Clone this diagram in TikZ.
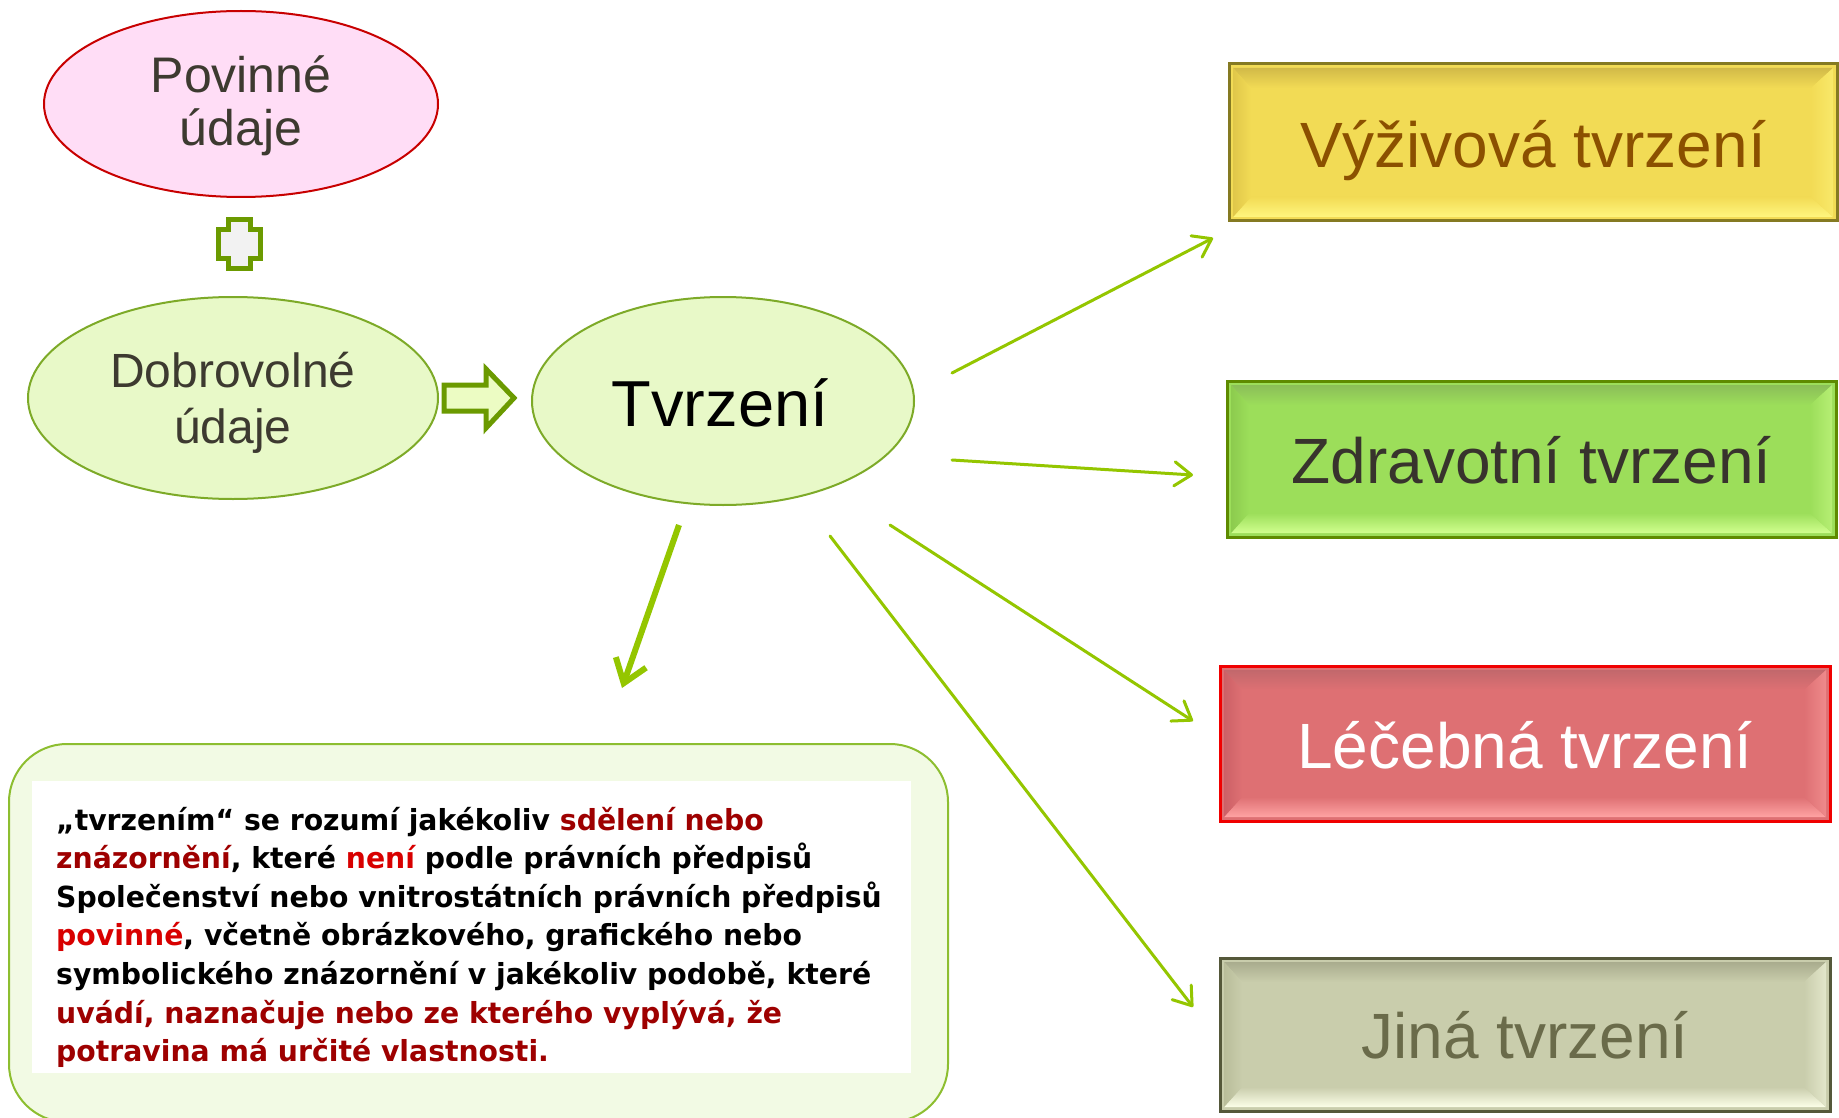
\documentclass[tikz,border=0pt]{standalone}
\usepackage{fontspec}
\setmainfont{Liberation Sans}
\newfontfamily\deffont{DejaVu Sans}[FakeStretch=0.975]
\usetikzlibrary{shapes.geometric,arrows.meta}
\definecolor{povfill}{HTML}{FFDDF6}
\definecolor{povedge}{HTML}{C80000}
\definecolor{gfill}{HTML}{E8F9C8}
\definecolor{gedge}{HTML}{7DAA28}
\definecolor{lbltext}{HTML}{3D3A30}
\definecolor{arrgreen}{HTML}{94C600}
\definecolor{plusedge}{HTML}{6B9A00}
\definecolor{plusfill}{HTML}{F2F2F2}
\definecolor{blockfill}{HTML}{ECFCC3}
\definecolor{yfill}{HTML}{F2DB55}\definecolor{ytop}{HTML}{D2BA48}\definecolor{ybot}{HTML}{FFF67E}
\definecolor{yside}{HTML}{E0C74A}\definecolor{yedge}{HTML}{857A22}\definecolor{ytext}{HTML}{8B5000}
\definecolor{zfill}{HTML}{9CDE5A}\definecolor{ztop}{HTML}{8BBE58}\definecolor{zbot}{HTML}{D0FF8E}
\definecolor{zside}{HTML}{8CCB4E}\definecolor{zedge}{HTML}{5E8B00}\definecolor{ztext}{HTML}{38332D}
\definecolor{rfill}{HTML}{DE7073}\definecolor{rtop}{HTML}{C2686C}\definecolor{rbot}{HTML}{FFA3A3}
\definecolor{rside}{HTML}{CC6066}\definecolor{redge}{HTML}{F00000}\definecolor{rtext}{HTML}{FFFFFF}
\definecolor{jfill}{HTML}{C9CDAC}\definecolor{jtop}{HTML}{A9AC8E}\definecolor{jbot}{HTML}{FCFFE8}
\definecolor{jside}{HTML}{B9BD9A}\definecolor{jedge}{HTML}{55583A}\definecolor{jtext}{HTML}{6A6B4A}
\definecolor{tbfill}{HTML}{F2FAE4}
\definecolor{tbedge}{HTML}{8DBE30}
\definecolor{dred}{HTML}{9E0000}
\definecolor{bred}{HTML}{D80000}

\tikzset{
  lbl/.style={inner sep=0pt, anchor=base, text=lbltext},
  ell/.style={ellipse, inner sep=0pt, line width=2pt},
  boxtext/.style={inner sep=0pt, anchor=base, font=\fontsize{64}{70}\selectfont},
  arr/.style={draw=arrgreen, line width=3pt, line cap=round, -{Straight Barb[length=17pt,width=24pt,round]}},
  arrbig/.style={draw=arrgreen, line width=6pt, -{Straight Barb[length=22pt,width=32pt]}},
  txt/.style={inner sep=0pt, anchor=base west, font=\deffont\bfseries\fontsize{29}{35}\selectfont},
}

\newcommand\bevbox[8]{%
  \fill[#6fill] (#2,#3) rectangle (#4,#5);
  \shade[top color=#6top,bottom color=#6fill] (#2+4,#3+4) -- (#4-4,#3+4) -- (#4-26,#3+24) -- (#2+22,#3+24) -- cycle;
  \shade[top color=#6fill,bottom color=#6bot] (#2+4,#5-4) -- (#4-4,#5-4) -- (#4-26,#5-24) -- (#2+22,#5-24) -- cycle;
  \shade[left color=#6side,right color=#6fill] (#2+4,#3+4) -- (#2+22,#3+24) -- (#2+22,#5-24) -- (#2+4,#5-4) -- cycle;
  \shade[left color=#6fill,right color=#6bot!50!#6fill] (#4-4,#3+4) -- (#4-26,#3+24) -- (#4-26,#5-24) -- (#4-4,#5-4) -- cycle;
  \pgfmathsetmacro\bw{#4-#2}\pgfmathsetmacro\bh{#5-#3}%
  \node[draw=#6edge, line width=3pt, inner sep=0pt, minimum width=\bw pt, minimum height=\bh pt] (#1) at ({(#2+#4)/2},{(#3+#5)/2}) {};
  \node[boxtext, text=#6text] (#1t) at ({(#2+#4)/2},#7) {#8};
}

\begin{document}
\begin{tikzpicture}[x=1pt,y=-1pt]
\useasboundingbox (0,0) rectangle (1839,1118);
\clip (0,0) rectangle (1839,1118);
\fill[white] (0,0) rectangle (1839,1118);

% left ellipses
\node[ell, draw=povedge, fill=povfill, minimum width=394pt, minimum height=186pt] (pov) at (241,104) {};
\node[lbl, font=\fontsize{50}{54}\selectfont] (povt1) at (241,93) {Povinné};
\node[lbl, font=\fontsize{50}{54}\selectfont] (povt2) at (241,146) {údaje};

% plus sign
\draw[draw=plusedge, fill=plusfill, line width=5pt] (228.5,219.5) -- (250.5,219.5) -- (250.5,229.5) -- (260.5,229.5) -- (260.5,258.5) -- (250.5,258.5) -- (250.5,268.5) -- (228.5,268.5) -- (228.5,258.5) -- (218.5,258.5) -- (218.5,229.5) -- (228.5,229.5) -- cycle;

\node[ell, draw=gedge, fill=gfill, minimum width=410pt, minimum height=202pt] (dob) at (233,398) {};
\node[lbl, font=\fontsize{48}{54}\selectfont] (dobt1) at (233,387) {Dobrovolné};
\node[lbl, font=\fontsize{48}{54}\selectfont] (dobt2) at (233,443) {údaje};

% block arrow
\draw[draw=plusedge, fill=blockfill, line width=5pt, line join=miter] (444,385) -- (486,385) -- (486,369) -- (514,398) -- (486,428) -- (486,411) -- (444,411) -- cycle;

\node[ell, draw=gedge, fill=gfill, minimum width=382pt, minimum height=208pt] (tv) at (723,401) {};
\node[lbl, text=black, font=\fontsize{65}{70}\selectfont] (tvt) at (720,426) {Tvrzení};

% right boxes
\bevbox{vyz}{1229}{64}{1837}{221}{y}{168}{Výživová tvrzení}
\bevbox{zdr}{1227}{381}{1836}{537}{z}{483}{Zdravotní tvrzení}
\bevbox{lec}{1220}{666}{1830}{821}{r}{768}{Léčebná tvrzení}
\bevbox{jin}{1220}{958}{1830}{1111}{j}{1058}{Jiná tvrzení}

% arrows
\coordinate (a1s) at (952,373); \coordinate (a1e) at (1213,238);
\coordinate (a2s) at (952,460); \coordinate (a2e) at (1193,475);
\coordinate (a3s) at (890,525); \coordinate (a3e) at (1193,721);
\coordinate (a4s) at (830,536); \coordinate (a4e) at (1193,1007);
\coordinate (a5s) at (679,525); \coordinate (a5e) at (622,688);
\draw[arr] (a1s) -- (a1e);
\draw[arr] (a2s) -- (a2e);
\draw[arr] (a3s) -- (a3e);
\draw[arr] (a4s) -- (a4e);
\draw[arrbig] (a5s) -- (a5e);

% definition box
\node[draw=tbedge, fill=tbfill, line width=2pt, rounded corners=58pt, inner sep=0pt, minimum width=939pt, minimum height=378pt] (tbox) at (478.5,933) {};
\node[fill=white, inner sep=0pt, minimum width=879pt, minimum height=292pt] (tin) at (471.5,927) {};
\node[txt] (l1) at (56,830) {„tvrzením“ se rozumí jakékoliv \textcolor{dred}{sdělení nebo}};
\node[txt] (l2) at (56,868.6) {\textcolor{dred}{znázornění}, které \textcolor{bred}{není} podle právních předpisů};
\node[txt] (l3) at (56,907.2) {Společenství nebo vnitrostátních právních předpisů};
\node[txt] (l4) at (56,945.8) {\textcolor{bred}{povinné}, včetně obrázkového, grafického nebo};
\node[txt] (l5) at (56,984.4) {symbolického znázornění v jakékoliv podobě, které};
\node[txt] (l6) at (56,1023) {\textcolor{dred}{uvádí, naznačuje nebo ze kterého vyplývá, že}};
\node[txt] (l7) at (56,1061.6) {\textcolor{dred}{potravina má určité vlastnosti.}};
\end{tikzpicture}
\end{document}
